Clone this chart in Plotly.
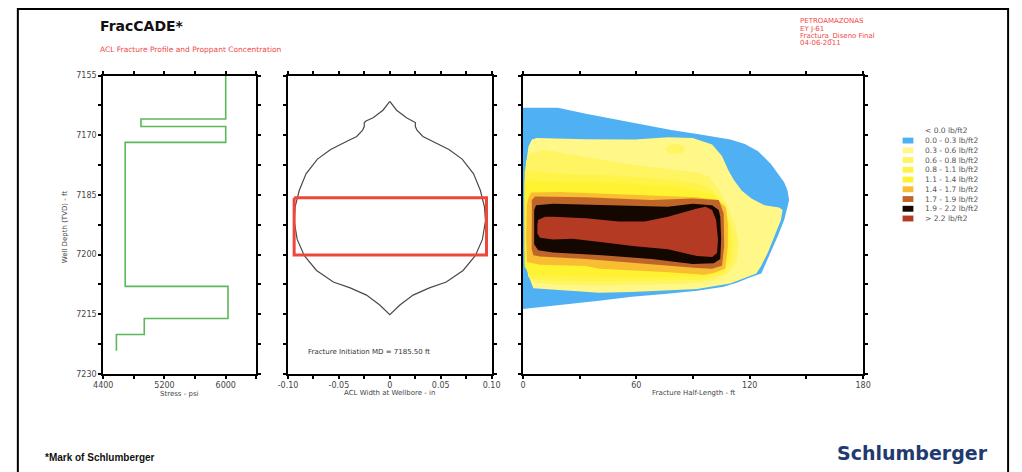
import plotly.graph_objects as go

W, H = 1022, 472

# ---------------- data ----------------
# Stress log (step profile)
stress_psi = [6000, 6000, 4893, 4893, 6000, 6000, 4687, 4687, 6030, 6030, 4936, 4936, 4572, 4572]
stress_depth = [7155.0, 7165.9, 7165.9, 7167.8, 7167.8, 7171.8, 7171.8, 7208.0, 7208.0,
                7216.1, 7216.1, 7220.1, 7220.1, 7224.2]

# ACL width profile (half width, in) vs depth (ft) -- symmetric about 0
width_half_in = [0.0, 0.0067, 0.0164, 0.0234, 0.0251, 0.0251, 0.0267, 0.0325, 0.0421, 0.0581,
                 0.0711, 0.0823, 0.0890, 0.0930, 0.0940, 0.0910, 0.0840, 0.0720, 0.0555, 0.0389,
                 0.0229, 0.0099, 0.0]
width_depth = [7161.5, 7163.7, 7165.6, 7166.4, 7166.8, 7167.8, 7168.7, 7170.3, 7171.5, 7173.6,
               7176.0, 7179.7, 7183.9, 7188.0, 7191.5, 7196.2, 7200.3, 7204.0, 7206.9, 7208.4,
               7210.2, 7212.7, 7215.1]

# Perforated / initiation interval box
perf_depth = [7185.7, 7200.1]
perf_width = [-0.094, 0.095]
init_md = 7185.50

# Proppant concentration zones (half-length ft, depth ft), outer to inner
zone_00_03 = [(0, 7163.1), (18.5, 7163.1), (33.3, 7164.6), (50.6, 7166.2), (64.5, 7167.4), (78.4, 7168.7),
              (92.2, 7169.7), (109.7, 7171.1), (117.4, 7172.2), (124.4, 7174.0), (131.3, 7177.3),
              (138.2, 7181.8), (140.0, 7183.9), (140.8, 7186.3), (140.0, 7188.0), (138.2, 7191.3),
              (134.8, 7195.4), (130.4, 7200.3), (126.1, 7204.8), (120.0, 7205.8), (113.1, 7207.1),
              (106.2, 7208.1), (92.2, 7209.1), (74.9, 7209.9), (57.6, 7210.6), (40.2, 7211.6),
              (22.9, 7212.5), (9.0, 7213.2), (0, 7213.7)]
zone_03_06 = [(2.9, 7172.8), (4.7, 7171.1), (7.3, 7170.7), (33.3, 7171.0), (59.3, 7171.1), (76.7, 7170.5),
              (89.8, 7170.7), (100.1, 7172.3), (105.3, 7175.2), (108.8, 7178.9), (111.7, 7181.3),
              (115.7, 7183.9), (120.9, 7185.9), (127.8, 7187.6), (135.6, 7188.2), (137.4, 7188.8),
              (136.5, 7191.3), (133.0, 7195.4), (129.6, 7199.5), (126.1, 7202.8), (123.5, 7204.8),
              (118.3, 7205.7), (109.6, 7207.3), (92.2, 7208.7), (74.9, 7209.1), (57.6, 7209.4),
              (40.2, 7209.6), (22.9, 7209.1), (5.5, 7208.5), (2.9, 7205.3), (1.2, 7198.7),
              (0.9, 7186.3), (1.2, 7178.9)]
zone_06_08 = [(1.7, 7176.5), (3.8, 7174.7), (11.6, 7173.6), (24.6, 7174.8), (50.6, 7176.9), (76.7, 7178.5),
              (92.2, 7179.4), (98.4, 7180.4), (103.7, 7183.9), (107.9, 7187.6), (112.1, 7192.5),
              (114.2, 7197.4), (113.1, 7201.6), (108.9, 7204.8), (100.1, 7206.6), (87.1, 7207.3),
              (66.3, 7207.6), (40.2, 7207.8), (19.4, 7207.6), (6.4, 7207.1), (2.8, 7205.6),
              (0.9, 7198.7), (0.9, 7181.4)]
zone_06_08_spot = [(75.6, 7173.5), (77.0, 7172.6), (80.8, 7172.2), (84.6, 7172.6), (86.0, 7173.5),
                   (84.6, 7174.4), (80.8, 7174.8), (77.0, 7174.4)]
zone_08_11 = [(0.9, 7179.0), (19.4, 7179.7), (50.6, 7180.2), (76.7, 7181.2), (92.2, 7182.1), (100.1, 7183.9),
              (105.8, 7187.6), (109.9, 7192.5), (111.5, 7197.4), (110.5, 7201.6), (105.3, 7205.1),
              (94.9, 7206.3), (66.3, 7206.6), (40.2, 7206.8), (14.2, 7206.6), (3.8, 7206.1), (0.9, 7202.4)]
zone_11_14 = [(0.9, 7181.4), (19.4, 7181.6), (50.6, 7182.1), (76.7, 7182.9), (92.2, 7183.9), (101.6, 7185.1),
              (106.8, 7187.6), (109.4, 7192.5), (109.9, 7197.4), (108.4, 7201.6), (103.7, 7204.6),
              (94.9, 7205.6), (66.3, 7205.6), (40.2, 7205.6), (14.2, 7205.3), (3.8, 7205.1), (0.9, 7203.1)]
zone_14_17 = [(2.9, 7185.8), (4.3, 7184.4), (19.4, 7184.3), (50.6, 7184.9), (81.9, 7185.4), (92.2, 7185.6),
              (102.7, 7186.3), (107.4, 7188.1), (108.4, 7192.5), (108.4, 7197.9), (107.0, 7203.6),
              (101.3, 7204.6), (95.8, 7205.1), (74.9, 7204.4), (40.2, 7203.6), (33.3, 7202.9),
              (9.0, 7202.6), (2.2, 7201.9), (1.7, 7196.2), (2.0, 7187.6)]
zone_17_19 = [(4.7, 7186.3), (6.4, 7185.4), (33.3, 7185.6), (68.0, 7186.3), (89.8, 7185.9), (103.6, 7186.3),
              (106.2, 7189.6), (106.5, 7197.9), (105.3, 7202.8), (100.1, 7203.6), (92.2, 7203.4),
              (68.0, 7202.4), (33.3, 7201.1), (9.0, 7200.5), (5.5, 7200.2), (4.6, 7198.7)]
zone_19_22 = [(5.9, 7188.8), (6.9, 7187.6), (15.9, 7187.2), (50.6, 7187.6), (76.7, 7188.0), (89.8, 7187.2),
              (100.1, 7187.6), (103.6, 7188.8), (104.4, 7190.5), (104.9, 7196.2), (104.4, 7201.1),
              (101.0, 7202.2), (89.8, 7202.4), (68.0, 7201.1), (41.9, 7200.2), (15.9, 7199.5),
              (8.0, 7198.9), (5.9, 7197.4)]
zone_22_up = [(7.6, 7192.5), (8.0, 7191.3), (11.6, 7190.5), (15.9, 7190.5), (33.3, 7190.9), (50.6, 7191.7),
              (64.5, 7191.7), (76.7, 7190.5), (92.2, 7188.4), (96.6, 7188.0), (100.1, 7188.8),
              (102.2, 7191.3), (103.2, 7196.2), (102.7, 7199.6), (100.1, 7200.6), (92.2, 7200.4),
              (76.7, 7198.7), (59.3, 7197.9), (41.9, 7196.9), (26.3, 7196.0), (15.9, 7196.2),
              (9.0, 7195.8), (7.6, 7194.7)]

conc_labels = ["< 0.0 lb/ft2", "0.0 - 0.3 lb/ft2", "0.3 - 0.6 lb/ft2", "0.6 - 0.8 lb/ft2",
               "0.8 - 1.1 lb/ft2", "1.1 - 1.4 lb/ft2", "1.4 - 1.7 lb/ft2", "1.7 - 1.9 lb/ft2",
               "1.9 - 2.2 lb/ft2", "> 2.2 lb/ft2"]
conc_colors = [None, "#4fb0f3", "#fff787", "#fff462", "#fff348", "#fff230", "#f8bd32",
               "#c0652a", "#140700", "#b53a23"]
zones = [(zone_00_03, 1), (zone_03_06, 2), (zone_06_08, 3), (zone_06_08_spot, 3), (zone_08_11, 4),
         (zone_11_14, 5), (zone_14_17, 6), (zone_17_19, 7), (zone_19_22, 8), (zone_22_up, 9)]

depth_range = [7230, 7155]
depth_ticks = [7155 + 7.5 * i for i in range(11)]
stress_ticks = [4400, 4800, 5200, 5600, 6000, 6400]
stress_ticktext = ["4400", "", "5200", "", "6000", ""]
width_ticks = [-0.1, -0.075, -0.05, -0.025, 0, 0.025, 0.05, 0.075, 0.1]
width_ticktext = ["-0.10", "", "-0.05", "", "0", "", "0.05", "", "0.10"]
length_ticks = [0, 30, 60, 90, 120, 150, 180]
length_ticktext = ["0", "", "60", "", "120", "", "180"]

header_lines = ["PETROAMAZONAS", "EY J-61", "Fractura_Diseno Final", "04-06-2011"]

# ---------------- figure ----------------
def px(x):
    return x / W


def py(y):
    return 1 - y / H


fig = go.Figure()

# Panel 1: stress
fig.add_trace(go.Scatter(x=stress_psi, y=stress_depth, mode="lines",
                         line=dict(color="#5cb85a", width=1.6), xaxis="x", yaxis="y",
                         hoverinfo="skip", showlegend=False))

# Panel 2: width profile
wx = width_half_in + [-v for v in reversed(width_half_in)]
wy = width_depth + list(reversed(width_depth))
fig.add_trace(go.Scatter(x=wx, y=wy, mode="lines", line=dict(color="#4a4a4a", width=1.2),
                         xaxis="x2", yaxis="y2", hoverinfo="skip", showlegend=False))
fig.add_trace(go.Scatter(x=[perf_width[0], perf_width[1], perf_width[1], perf_width[0], perf_width[0]],
                         y=[perf_depth[0], perf_depth[0], perf_depth[1], perf_depth[1], perf_depth[0]],
                         mode="lines", line=dict(color="#f0463a", width=3),
                         xaxis="x2", yaxis="y2", hoverinfo="skip", showlegend=False))

# Panel 3: concentration zones
for pts, ci in zones:
    fig.add_trace(go.Scatter(x=[p[0] for p in pts], y=[p[1] for p in pts], mode="lines",
                             fill="toself", fillcolor=conc_colors[ci], line=dict(width=0),
                             xaxis="x3", yaxis="y3", hoverinfo="skip", showlegend=False))

tickfont = dict(family="DejaVu Sans", size=8, color="#454545")
axis_common = dict(showline=True, linecolor="black", linewidth=2, mirror="allticks",
                   ticks="outside", ticklen=3, tickwidth=1.5, tickcolor="black",
                   showgrid=False, zeroline=False, tickfont=tickfont, fixedrange=True)

ydom = [py(377), py(73)]
fig.update_layout(
    width=W, height=H, margin=dict(l=0, r=0, t=0, b=0),
    paper_bgcolor="white", plot_bgcolor="white",
    xaxis=dict(domain=[px(95), px(251)], range=[4400, 6400], anchor="y",
               tickmode="array", tickvals=stress_ticks, ticktext=stress_ticktext, **axis_common),
    yaxis=dict(domain=ydom, range=depth_range, anchor="x", tickmode="array", tickvals=depth_ticks,
               ticktext=[f"{v:.0f}" if (v - 7155) % 15 == 0 else "" for v in depth_ticks],
               **axis_common),
    xaxis2=dict(domain=[px(283.3), px(490.7)], range=[-0.1, 0.1], anchor="y2",
                tickmode="array", tickvals=width_ticks, ticktext=width_ticktext, **axis_common),
    yaxis2=dict(domain=ydom, range=depth_range, anchor="x2", tickmode="array", tickvals=depth_ticks,
                showticklabels=False, **axis_common),
    xaxis3=dict(domain=[px(522.7), px(869.3)], range=[0, 180], anchor="y3",
                tickmode="array", tickvals=length_ticks, ticktext=length_ticktext, **axis_common),
    yaxis3=dict(domain=ydom, range=depth_range, anchor="x3", tickmode="array", tickvals=depth_ticks,
                showticklabels=False, **axis_common),
)

ann = []


def text(x, y, s, size, color="#454545", family="DejaVu Sans", xanchor="left", angle=0):
    ann.append(dict(x=px(x), y=py(y), xref="paper", yref="paper", text=s, showarrow=False,
                    xanchor=xanchor, yanchor="middle", textangle=angle,
                    font=dict(family=family, size=size, color=color)))


text(90, 22, "<b>FracCADE*</b>", 14, color="#111111", family="DejaVu Sans")
text(90, 46.7, "ACL Fracture Profile and Proppant Concentration", 7.5, color="#f04848")
for i, line in enumerate(header_lines):
    text(803, 17.7 + 7.35 * i, line, 7, color="#f04848")

text(173, 398, "Stress - psi", 7, xanchor="center")
text(387, 397, "ACL Width at Wellbore - in", 7, xanchor="center")
text(697, 397, "Fracture Half-Length - ft", 7, xanchor="center")
text(56, 226.7, "Well Depth (TVD) - ft", 7, xanchor="center", angle=-90)
text(302, 355, f"Fracture Initiation MD = {init_md:.2f} ft", 7, color="#333333")

# legend
shapes = []
for i, (lab, col) in enumerate(zip(conc_labels, conc_colors)):
    yc = 129.3 + 9.93 * i
    text(930, yc, lab, 7.5, color="#555555")
    if col is not None:
        shapes.append(dict(type="rect", xref="paper", yref="paper", x0=px(909.5), x1=px(920.5),
                           y0=py(yc + 3), y1=py(yc - 3), fillcolor=col, line=dict(width=0)))

text(34, 462, "<b>*Mark of Schlumberger</b>", 10, color="#111111", family="Liberation Sans")
text(920, 458, "<b>Schlumberger</b>", 19, color="#1f3a70", family="DejaVu Sans", xanchor="center")

# outer frame
shapes.append(dict(type="rect", xref="paper", yref="paper", x0=px(8), x1=px(1017), y0=-0.02,
                   y1=py(5), line=dict(color="black", width=2), fillcolor="rgba(0,0,0,0)"))

fig.update_layout(annotations=ann, shapes=shapes)
fig.write_html("out.html", config={"displayModeBar": False},
               post_script="document.body.style.margin='0';document.body.style.overflow='hidden';")
